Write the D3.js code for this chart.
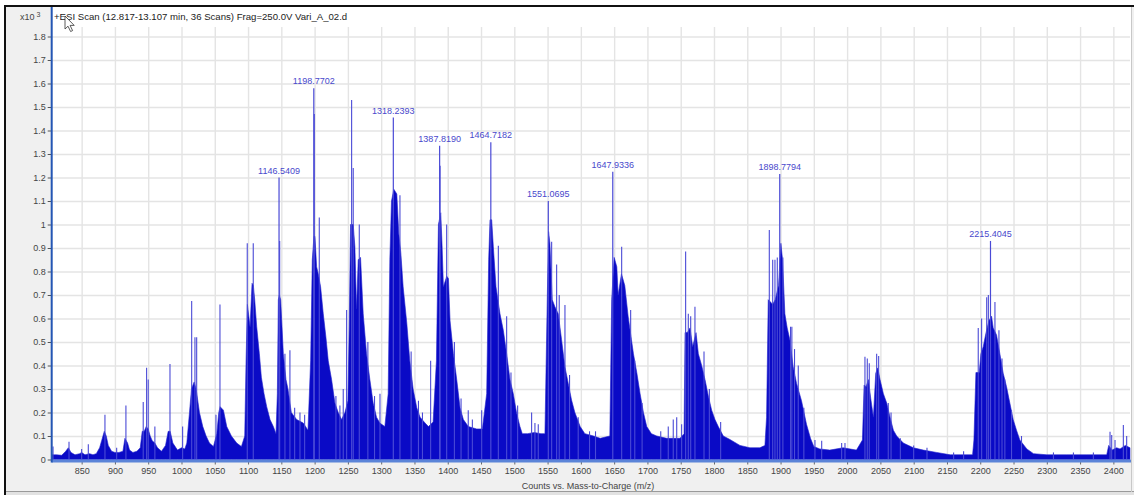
<!DOCTYPE html>
<html>
<head>
<meta charset="utf-8">
<script src="https://cdn.jsdelivr.net/npm/d3@7"></script>
<style>
  body { margin: 0; background: #fff; }
  svg { display: block; }
  text { font-family: "Liberation Sans", Arial, sans-serif; }
</style>
</head>
<body>
<svg id="chart" width="1134" height="495"></svg>
<script>
// ---- Spectrum data (intensity in counts x10^3) ----
// Continuous profile of the ion envelope
const envMz = [805, 809, 812, 820, 826, 830, 834, 840, 847, 850, 855, 862, 867, 872, 877, 880, 884, 887, 890, 895,
  900, 906, 912, 915, 919, 922, 927, 933, 938, 941, 944, 947, 950, 953, 956, 960, 964, 970, 976, 980,
  983, 987, 994, 1000, 1005, 1008, 1012, 1015, 1019, 1022, 1027, 1032, 1037, 1042, 1048, 1053, 1056, 1058, 1063, 1068,
  1075, 1083, 1090, 1095, 1097, 1099, 1103, 1106, 1108, 1110, 1113, 1117, 1120, 1124, 1128, 1133, 1138, 1142, 1144, 1145.5,
  1147, 1149, 1151, 1153, 1157, 1160, 1165, 1173, 1183, 1190, 1194, 1196.5, 1199, 1200.5, 1203, 1205.5, 1209, 1213, 1217, 1220.5,
  1225.5, 1230.5, 1235.5, 1240.5, 1245.5, 1250, 1252, 1254, 1258, 1260.5, 1263, 1265.5, 1269, 1273, 1278, 1283, 1288, 1293, 1298, 1305.5,
  1310.5, 1313, 1315.5, 1319, 1323.5, 1326.5, 1329.5, 1333, 1338.5, 1343, 1348, 1353.5, 1358.5, 1366, 1371, 1378, 1383, 1386, 1389.5, 1391.5,
  1393.5, 1398.5, 1401, 1403.5, 1408.5, 1413.5, 1418.5, 1423.5, 1431, 1443.5, 1452, 1458.5, 1461.5, 1463.5, 1466, 1468.5, 1472.5, 1478.5, 1483.5, 1488.5,
  1493.5, 1498.5, 1503.5, 1508.5, 1512, 1520, 1530, 1540, 1546, 1549.5, 1551.5, 1553.5, 1557, 1561, 1566, 1571, 1576, 1581, 1586, 1591,
  1599, 1606, 1619, 1629, 1643.5, 1646.3, 1650, 1654, 1656, 1661, 1666, 1671, 1676, 1679, 1684, 1689, 1694, 1699, 1706, 1714,
  1729, 1749, 1755, 1756.5, 1760, 1764, 1768, 1773, 1776.5, 1781.5, 1786.5, 1791.5, 1796.5, 1801.5, 1806.5, 1814, 1824, 1839, 1854, 1869,
  1876.5, 1879, 1881.5, 1885, 1888, 1892, 1897, 1900.5, 1903, 1906.5, 1910, 1914, 1919, 1924, 1931.5, 1939, 1945, 1950, 1959, 1974,
  1994, 2014, 2023, 2025.5, 2028.5, 2032, 2035.5, 2039.5, 2043, 2046, 2049.5, 2054.5, 2059.5, 2064.5, 2069.5, 2074.5, 2084.5, 2099.5, 2114.5, 2134.5,
  2155, 2170, 2188.5, 2190.5, 2193.5, 2198.5, 2201, 2204.5, 2208.5, 2213, 2217, 2219.5, 2224.5, 2229.5, 2234.5, 2239.5, 2244.5, 2249.5, 2254.5, 2259.5,
  2270, 2280, 2300, 2330, 2360, 2390, 2393, 2398, 2405, 2410, 2418, 2425];
const envInt = [0.02, 0.02, 0.02, 0.018, 0.035, 0.05, 0.03, 0.02, 0.025, 0.03, 0.02, 0.025, 0.02, 0.025, 0.05, 0.08, 0.12, 0.10, 0.06, 0.035,
  0.03, 0.03, 0.035, 0.09, 0.07, 0.04, 0.03, 0.035, 0.05, 0.12, 0.12, 0.14, 0.13, 0.10, 0.08, 0.07, 0.05, 0.035, 0.06, 0.12,
  0.12, 0.07, 0.04, 0.05, 0.045, 0.07, 0.20, 0.30, 0.33, 0.30, 0.20, 0.14, 0.10, 0.07, 0.055, 0.11, 0.20, 0.225, 0.21, 0.14,
  0.10, 0.07, 0.055, 0.10, 0.42, 0.66, 0.565, 0.75, 0.74, 0.68, 0.565, 0.45, 0.35, 0.28, 0.225, 0.17, 0.14, 0.11, 0.28, 0.68,
  0.70, 0.68, 0.565, 0.45, 0.34, 0.30, 0.20, 0.17, 0.155, 0.125, 0.42, 0.85, 0.95, 0.95, 0.82, 0.79, 0.735, 0.62, 0.52, 0.42,
  0.34, 0.24, 0.20, 0.17, 0.20, 0.25, 0.565, 1.0, 1.0, 0.905, 0.64, 0.85, 0.86, 0.62, 0.45, 0.34, 0.24, 0.18, 0.155, 0.14,
  0.28, 0.85, 1.10, 1.15, 1.13, 0.96, 0.88, 0.735, 0.58, 0.42, 0.30, 0.22, 0.18, 0.155, 0.14, 0.16, 0.42, 1.0, 1.05, 0.91,
  0.735, 0.78, 0.77, 0.59, 0.45, 0.34, 0.22, 0.17, 0.14, 0.13, 0.13, 0.28, 0.85, 1.02, 1.02, 0.905, 0.735, 0.62, 0.55, 0.45,
  0.34, 0.28, 0.197, 0.14, 0.11, 0.11, 0.115, 0.11, 0.11, 0.68, 0.97, 0.92, 0.68, 0.65, 0.62, 0.51, 0.395, 0.325, 0.253, 0.20,
  0.14, 0.11, 0.10, 0.09, 0.10, 0.68, 0.86, 0.82, 0.70, 0.79, 0.74, 0.61, 0.51, 0.45, 0.37, 0.28, 0.20, 0.14, 0.11, 0.10,
  0.09, 0.09, 0.11, 0.54, 0.54, 0.56, 0.48, 0.54, 0.45, 0.40, 0.34, 0.27, 0.21, 0.17, 0.14, 0.10, 0.085, 0.06, 0.05, 0.05,
  0.06, 0.18, 0.68, 0.67, 0.66, 0.68, 0.74, 0.92, 0.85, 0.62, 0.56, 0.51, 0.395, 0.325, 0.25, 0.15, 0.09, 0.055, 0.045, 0.04,
  0.05, 0.04, 0.083, 0.317, 0.31, 0.34, 0.26, 0.18, 0.367, 0.39, 0.34, 0.28, 0.24, 0.18, 0.125, 0.10, 0.07, 0.05, 0.04, 0.03,
  0.02, 0.02, 0.02, 0.083, 0.37, 0.37, 0.45, 0.48, 0.537, 0.59, 0.61, 0.56, 0.53, 0.45, 0.367, 0.31, 0.24, 0.17, 0.125, 0.083,
  0.045, 0.025, 0.02, 0.02, 0.02, 0.02, 0.06, 0.04, 0.05, 0.045, 0.06, 0.05];

// Individual centroid spikes rising above the envelope
const spikeMz = [807, 831, 850, 860, 885, 902.6, 916.5, 942.5, 947.6, 950, 960, 982.7, 1001.7, 1015.3, 1020.2, 1022.8, 1051.8, 1057.8,
  1098.8, 1107.8, 1147.5, 1155.4, 1162.9, 1170, 1178, 1185, 1199.5, 1207, 1232, 1238, 1243, 1248.1, 1255.6, 1258, 1267.1, 1280, 1290, 1298.2,
  1328.2, 1345, 1356, 1362, 1374.3, 1388.5, 1398.4, 1410, 1420, 1430.8, 1437, 1451, 1476, 1488.5, 1495, 1505,
  1526, 1531, 1536, 1556.1, 1563.6, 1567.5, 1576.1, 1583, 1596, 1613, 1622, 1661.3, 1674.8, 1681, 1692, 1720,
  1731.3, 1738.8, 1744, 1751.4, 1757.4, 1761.4, 1765, 1771.4, 1785, 1793, 1810,
  1883.1, 1888.2, 1891.6, 1895.1, 1903.5, 1915, 1917, 1921, 1926.6, 1935, 1951.7, 1961.8, 1991.8, 1996.8,
  2026.8, 2030.3, 2033.3, 2044.4, 2047.4, 2061.8, 2066, 2080, 2100, 2120, 2160, 2175,
  2197, 2202.1, 2209.7, 2212.2, 2222.1, 2228.1, 2232.7, 2237, 2247, 2262, 2310, 2340, 2370,
  2395, 2397.5, 2402.5, 2415, 2420];
const spikeInt = [0.055, 0.076, 0.045, 0.065, 0.19, 0.05, 0.23, 0.245, 0.39, 0.34, 0.14, 0.406, 0.14, 0.674, 0.52, 0.52, 0.19, 0.66,
  0.92, 0.92, 0.93, 0.45, 0.465, 0.22, 0.20, 0.19, 1.47, 1.03, 0.27, 0.23, 0.30, 0.636, 1.53, 1.24, 1.0, 0.50, 0.27, 0.28,
  1.125, 0.46, 0.25, 0.20, 0.42, 1.25, 1.0, 0.50, 0.26, 0.21, 0.17, 0.21, 0.91, 0.61, 0.37, 0.23,
  0.20, 0.155, 0.15, 0.927, 0.83, 0.70, 0.657, 0.36, 0.18, 0.12, 0.12, 0.905, 0.636, 0.42, 0.24, 0.12,
  0.14, 0.17, 0.18, 0.15, 0.885, 0.62, 0.61, 0.65, 0.46, 0.30, 0.16,
  0.977, 0.85, 0.85, 0.86, 0.86, 0.565, 0.565, 0.47, 0.40, 0.22, 0.083, 0.08, 0.07, 0.07,
  0.437, 0.43, 0.41, 0.45, 0.44, 0.24, 0.20, 0.09, 0.06, 0.05, 0.03, 0.035,
  0.56, 0.60, 0.69, 0.70, 0.67, 0.55, 0.43, 0.34, 0.21, 0.10, 0.03, 0.03, 0.03,
  0.118, 0.104, 0.083, 0.147, 0.10];

// Annotated base peaks
const peakLabels = ["1146.5409", "1198.7702", "1318.2393", "1387.8190", "1464.7182", "1551.0695", "1647.9336", "1898.7794", "2215.4045"];
const peakInt = [1.20, 1.58, 1.455, 1.335, 1.35, 1.10, 1.225, 1.215, 0.93];

// Axis ticks
const xTicks = [850, 900, 950, 1000, 1050, 1100, 1150, 1200, 1250, 1300, 1350, 1400, 1450, 1500, 1550, 1600, 1650,
  1700, 1750, 1800, 1850, 1900, 1950, 2000, 2050, 2100, 2150, 2200, 2250, 2300, 2350, 2400];
const yTicks = [0, 0.1, 0.2, 0.3, 0.4, 0.5, 0.6, 0.7, 0.8, 0.9, 1, 1.1, 1.2, 1.3, 1.4, 1.5, 1.6, 1.7, 1.8];
const yTickLabels = ["0", "0.1", "0.2", "0.3", "0.4", "0.5", "0.6", "0.7", "0.8", "0.9", "1", "1.1", "1.2", "1.3", "1.4", "1.5", "1.6", "1.7", "1.8"];

const titleText = "+ESI Scan (12.817-13.107 min, 36 Scans) Frag=250.0V Vari_A_02.d";
const xAxisTitle = "Counts vs. Mass-to-Charge (m/z)";

// ---- Layout ----
const W = 1134, H = 495;
const plotL = 51.7, plotR = 1130, plotB = 459.5, plotT = 27.1;

const svg = d3.select("#chart");
const x = d3.scaleLinear().domain([805, 2425]).range([plotL, plotR]);
const y = d3.scaleLinear().domain([0, 1.84]).range([plotB, plotT]);

// window background and panels
svg.append("rect").attr("x", 0).attr("y", 0).attr("width", W).attr("height", H).attr("fill", "#ffffff");
svg.append("rect").attr("x", 5).attr("y", 6).attr("width", W - 5).attr("height", H - 6).attr("fill", "#f0f0f0");
svg.append("rect").attr("x", plotL).attr("y", 7).attr("width", plotR - plotL + 1).attr("height", plotB - 7 + 1).attr("fill", "#ffffff");
svg.append("line").attr("x1", 5).attr("x2", W).attr("y1", 491.5).attr("y2", 491.5).attr("stroke", "#9a9a9a").attr("stroke-width", 1);
svg.append("rect").attr("x", 5).attr("y", 492).attr("width", W - 5).attr("height", 3).attr("fill", "#e2e2e2");
svg.append("line").attr("x1", 1131.5).attr("x2", 1131.5).attr("y1", 7).attr("y2", 492).attr("stroke", "#c8c8c8");

// grid
const grid = svg.append("g");
grid.append("g").attr("transform", `translate(0,${plotB})`)
  .call(d3.axisBottom(x).tickValues(xTicks).tickSize(-(plotB - plotT)).tickFormat(""))
  .call(g => g.select(".domain").remove())
  .call(g => g.selectAll("line").attr("stroke", "#e4e4e4").attr("stroke-width", 1.4));
grid.append("g").attr("transform", `translate(${plotL},0)`)
  .call(d3.axisLeft(y).tickValues(yTicks.slice(1)).tickSize(-(plotR - plotL)).tickFormat(""))
  .call(g => g.select(".domain").remove())
  .call(g => g.selectAll("line").attr("stroke", "#e4e4e4").attr("stroke-width", 1.4));

// spectrum envelope
const envData = envMz.map((m, i) => [m, envInt[i]]);
const area = d3.area().x(d => x(d[0])).y0(y(0)).y1(d => y(d[1])).curve(d3.curveLinear);
svg.append("path").datum(envData).attr("d", area).attr("fill", "#0a0ac6").attr("stroke", "#2020cc").attr("stroke-width", 0.6);

// centroid spikes
const spikes = spikeMz.map((m, i) => [m, spikeInt[i]]);
svg.append("g").selectAll("line").data(spikes).join("line")
  .attr("x1", d => x(d[0])).attr("x2", d => x(d[0]))
  .attr("y1", y(0)).attr("y2", d => y(d[1]))
  .attr("stroke", "#4a4ad6").attr("stroke-width", 1.1);

// annotated peaks
const peaks = peakLabels.map((t, i) => ({ mz: +t, v: peakInt[i], t }));
svg.append("g").selectAll("line").data(peaks).join("line")
  .attr("x1", d => x(d.mz)).attr("x2", d => x(d.mz))
  .attr("y1", y(0)).attr("y2", d => y(d.v))
  .attr("stroke", "#4a4ad6").attr("stroke-width", 1.2);
svg.append("g").selectAll("text").data(peaks).join("text")
  .attr("x", d => x(d.mz)).attr("y", d => y(d.v) - 4)
  .attr("text-anchor", "middle").attr("font-size", 9).attr("fill", "#4848cc")
  .text(d => d.t);

// x axis
const xAxis = svg.append("g").attr("transform", `translate(0,${plotB + 1})`)
  .call(d3.axisBottom(x).tickValues(xTicks).tickSize(4).tickPadding(3).tickFormat(d3.format("d")));
xAxis.select(".domain").remove();
xAxis.selectAll("line").attr("stroke", "#666");
xAxis.selectAll("text").attr("font-size", 9).attr("fill", "#444").attr("font-family", "Liberation Sans, Arial, sans-serif");
svg.append("line").attr("x1", plotL).attr("x2", plotR + 1).attr("y1", plotB + 1.5).attr("y2", plotB + 1.5)
  .attr("stroke", "#5b84d8").attr("stroke-width", 3);

// y axis
const yAxis = svg.append("g").attr("transform", `translate(${plotL},0)`)
  .call(d3.axisLeft(y).tickValues(yTicks).tickSize(4).tickPadding(2).tickFormat((d, i) => yTickLabels[i]));
yAxis.select(".domain").remove();
yAxis.selectAll("line").attr("stroke", "#555");
yAxis.selectAll("text").attr("font-size", 9).attr("fill", "#444").attr("font-family", "Liberation Sans, Arial, sans-serif");
svg.append("line").attr("x1", plotL).attr("x2", plotL).attr("y1", 7).attr("y2", plotB + 3)
  .attr("stroke", "#2456b4").attr("stroke-width", 2);

// exponent marker and scan title
const expo = svg.append("text").attr("x", 20).attr("y", 20).attr("font-size", 9).attr("fill", "#444");
expo.append("tspan").text("x10");
expo.append("tspan").attr("dx", 2).attr("dy", -3).attr("font-size", 7).text("3");
svg.append("text").attr("x", 54).attr("y", 20).attr("font-size", 9.6).attr("fill", "#222").text(titleText);

// x axis title
svg.append("text").attr("x", 588).attr("y", 489).attr("text-anchor", "middle")
  .attr("font-size", 9).attr("fill", "#444").text(xAxisTitle);

// pointer over the title
svg.append("path")
  .attr("d", "M65,16 L65,29 L68,26.2 L70.6,31.5 L72.6,30.6 L70.1,25.4 L74.2,25.4 Z")
  .attr("fill", "#ffffff").attr("stroke", "#333").attr("stroke-width", 0.8);

// window frame
svg.append("line").attr("x1", 4).attr("x2", W).attr("y1", 6).attr("y2", 6).attr("stroke", "#111").attr("stroke-width", 2);
svg.append("line").attr("x1", 5).attr("x2", 5).attr("y1", 5).attr("y2", H).attr("stroke", "#111").attr("stroke-width", 2);
</script>
</body>
</html>
